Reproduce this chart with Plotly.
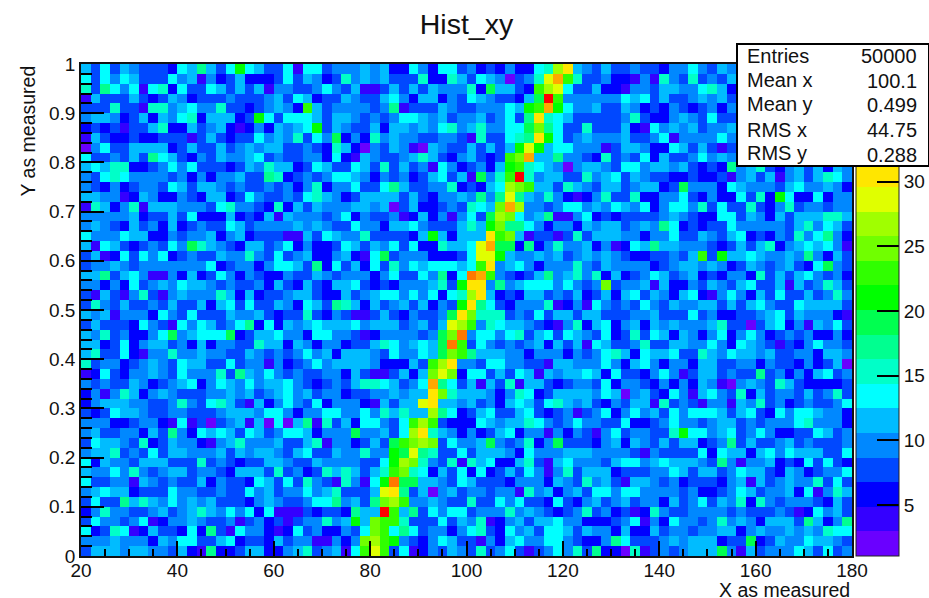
import plotly.graph_objects as go

TITLE = "Hist_xy"
X_LABEL = "X as measured"
Y_LABEL = "Y as measured"
X_TICKS = [20, 40, 60, 80, 100, 120, 140, 160, 180]
Y_TICKS = [0, 0.1, 0.2, 0.3, 0.4, 0.5, 0.6, 0.7, 0.8, 0.9, 1]
Y_TEXT = ["0", "0.1", "0.2", "0.3", "0.4", "0.5", "0.6", "0.7", "0.8", "0.9", "1"]
BAR_TICKS = [5, 10, 15, 20, 25, 30]
STAT_NAMES = ["Entries", "Mean x", "Mean y", "RMS x", "RMS y"]
STAT_VALUES = ["50000", "100.1", "0.499", "44.75", "0.288"]
COLORS = ["#6a00ff", "#3400ff", "#0000ff", "#0048ff", "#0088ff", "#00bcff", "#00ffff",
          "#00ffc8", "#00ff90", "#00ff50", "#00ff00", "#30ff00", "#70ff00", "#a0ff00",
          "#e0ff00", "#ffe600", "#ffa800", "#ff7800", "#ff0000", "#ff0000"]

# Counts, top row first: columns 0-25
LEFT = [
[12,8,14,8,12,10,8,8,8,6,14,12,18,12,8,14,21,14,12,8,8,14,4,14,14,8],
[14,8,14,10,14,12,8,8,8,14,10,12,4,10,6,8,12,6,6,6,8,14,8,12,10,6],
[16,8,18,14,10,14,4,14,16,6,14,8,8,14,12,8,12,8,12,4,10,10,8,8,10,14],
[4,12,8,8,8,12,8,6,8,12,10,6,8,8,8,10,8,8,8,10,12,8,14,12,6,8],
[8,8,8,16,8,8,4,16,16,10,12,14,10,10,16,8,8,6,8,10,12,10,6,23,12,8],
[10,12,12,10,6,8,12,6,12,10,14,16,6,12,12,12,6,8,21,14,8,14,14,14,12,8],
[6,8,6,8,4,8,8,12,16,6,6,12,8,10,12,6,4,6,10,6,12,10,12,14,21,8],
[4,12,8,6,6,8,6,6,8,8,8,4,8,12,8,6,8,8,14,10,12,10,16,8,14,10],
[2,10,14,8,8,12,12,12,12,6,8,12,8,8,12,8,10,12,10,12,12,8,8,10,8,6],
[14,8,8,10,8,12,8,18,14,12,8,6,10,8,12,10,10,12,14,8,10,8,8,10,10,6],
[12,14,12,16,16,6,6,8,10,14,10,14,8,8,8,6,8,12,10,16,12,12,6,8,14,12],
[10,8,14,16,14,10,10,10,10,8,10,6,10,6,10,10,12,8,8,18,16,6,8,10,8,10],
[10,8,6,10,6,8,10,10,8,14,12,8,12,12,10,8,10,8,8,10,8,10,6,10,16,6],
[12,12,10,10,4,6,12,10,6,6,10,8,6,12,12,6,8,14,10,8,8,10,8,14,16,12],
[4,16,12,6,10,16,4,12,12,12,10,10,10,8,14,16,10,10,8,6,16,6,12,8,12,10],
[10,10,10,10,10,12,6,8,8,12,8,14,6,6,6,12,6,8,6,12,4,12,10,10,10,8],
[10,12,10,8,6,12,8,10,6,12,6,8,10,8,8,14,12,8,10,10,10,10,12,10,12,10],
[14,10,10,10,14,12,12,6,6,10,8,10,10,12,6,10,12,6,8,8,8,4,4,12,8,14],
[12,4,14,12,8,6,8,10,8,14,10,19,16,12,10,8,6,12,12,8,10,14,6,10,6,6],
[8,12,4,6,14,8,14,10,14,6,8,10,8,8,12,10,10,16,10,8,14,8,10,12,6,6],
[8,10,10,12,10,8,10,10,10,10,10,10,10,14,6,8,10,10,6,10,14,14,12,8,18,6],
[12,12,18,8,12,14,10,4,4,10,6,12,6,8,14,10,6,10,8,6,6,10,8,8,12,10],
[10,10,6,10,6,14,8,10,12,10,14,12,12,10,8,10,8,8,10,6,12,8,6,12,8,6],
[8,4,12,8,4,10,16,8,4,10,12,10,10,10,16,12,6,12,6,8,8,10,12,12,8,6],
[8,16,10,8,12,8,8,10,8,12,8,8,12,6,12,14,8,14,8,8,12,10,6,14,12,8],
[12,10,12,4,10,10,10,6,14,10,8,14,8,8,8,12,10,10,12,8,6,8,8,16,8,6],
[8,12,8,8,8,6,14,10,8,4,14,10,14,12,8,10,14,18,6,14,6,12,10,12,14,12],
[12,10,16,8,10,6,6,10,14,19,10,12,14,14,14,19,6,8,12,12,14,10,10,6,14,14],
[12,12,6,8,14,6,10,12,12,8,10,6,12,6,10,10,8,8,16,12,12,6,12,10,6,10],
[12,16,8,8,14,6,4,10,10,16,10,10,12,10,10,8,8,12,10,8,10,8,10,14,10,12],
[16,8,10,10,6,8,10,12,10,8,14,12,12,8,8,14,8,10,10,4,10,6,8,10,14,10],
[4,6,14,8,6,10,10,12,10,8,14,10,10,10,16,8,18,12,10,14,10,8,10,8,8,10],
[10,8,10,8,8,12,10,6,8,10,12,14,6,10,14,12,10,14,10,12,12,14,10,8,6,8],
[6,10,4,10,16,12,6,10,12,10,8,8,8,10,10,12,10,12,8,10,12,14,10,12,8,10],
[6,10,12,12,12,10,10,8,8,10,16,10,8,14,16,12,8,4,12,6,10,14,10,8,14,6],
[8,6,8,14,12,12,10,8,8,10,10,8,8,8,10,12,12,12,10,14,14,10,6,10,10,14],
[10,10,10,6,6,8,10,10,6,4,14,4,8,2,8,10,12,4,12,2,14,2,12,18,4,16],
[10,12,8,8,10,10,6,12,8,18,10,6,14,12,14,12,8,14,12,8,10,14,14,12,6,10],
[8,14,12,12,10,8,16,6,8,12,10,10,6,4,10,12,16,10,10,10,12,8,8,12,16,4],
[10,12,12,16,8,10,8,14,8,12,12,10,10,10,12,8,12,10,12,12,10,8,12,14,8,8],
[14,6,12,10,10,8,12,12,12,8,8,8,16,8,10,8,6,8,8,12,12,10,8,8,12,10],
[12,10,10,14,10,16,10,8,10,12,12,8,10,10,8,6,12,12,12,8,16,8,10,6,8,16],
[14,8,8,10,10,4,12,10,8,10,8,8,12,6,10,8,8,6,14,12,8,14,8,16,10,8],
[10,12,14,12,12,6,8,8,8,14,10,10,8,8,10,8,8,14,10,12,8,10,10,14,10,12],
[8,14,8,8,18,12,16,12,10,14,10,12,10,12,8,8,8,6,10,12,10,8,8,10,14,14],
[6,10,16,10,10,8,8,10,12,8,10,12,16,12,10,14,10,14,6,14,4,4,4,8,6,8],
[8,14,10,10,8,10,14,4,6,10,10,12,10,8,8,10,4,8,10,6,8,4,8,10,10,16],
[14,6,8,16,14,4,6,12,8,8,6,14,6,18,8,4,14,10,10,6,4,6,14,8,10,6],
[10,10,10,12,10,10,10,6,12,10,14,14,8,8,12,14,6,8,8,6,12,8,10,10,4,4],
[8,12,12,12,10,12,12,10,10,8,12,6,4,18,6,6,8,12,12,6,6,10,12,16,8,10],
]

# Columns 26-53
MIDDLE = [
[10,10,10,12,10,12,6,6,14,10,6,14,14,8,10,6,8,6,10,6,6,14,16,27,31,12,10,8],
[8,16,10,12,10,12,8,8,8,16,6,6,16,12,8,14,12,10,2,8,10,16,29,33,23,16,8,8],
[10,8,12,4,4,8,12,8,12,8,12,10,10,10,16,6,19,12,12,8,6,23,27,29,14,8,8,12],
[8,12,10,8,8,12,14,10,6,12,12,6,10,8,14,12,10,8,8,6,12,19,37,23,10,10,10,10],
[10,10,10,10,8,10,18,4,8,8,8,12,10,8,8,10,10,10,14,12,21,23,33,21,14,10,10,12],
[12,12,10,8,10,8,10,14,14,12,10,12,8,10,10,12,8,10,14,8,18,31,16,14,12,8,8,8],
[12,10,8,8,12,6,12,12,10,12,10,14,16,10,12,16,10,10,14,14,19,25,18,14,8,8,16,8],
[19,6,10,6,16,10,12,10,10,8,8,10,10,8,4,16,8,8,14,16,18,31,21,14,8,10,12,10],
[16,12,6,2,10,8,12,10,4,2,12,10,8,8,12,8,12,8,12,21,29,21,12,14,14,10,10,10],
[14,6,4,12,10,8,8,10,12,16,12,8,6,10,12,8,6,8,23,25,33,12,12,18,10,10,8,6],
[8,8,14,12,8,16,8,12,8,10,4,14,10,6,8,10,6,12,21,23,16,14,12,10,2,10,12,12],
[14,14,12,10,6,10,8,10,6,8,12,14,8,12,4,19,10,16,23,37,16,10,12,12,8,8,16,10],
[10,10,14,8,8,14,18,12,8,8,10,10,16,6,8,6,12,14,27,25,23,12,12,8,16,12,10,8],
[10,6,8,12,12,12,12,8,12,8,6,10,10,12,10,18,10,18,29,18,12,10,16,10,6,4,6,10],
[10,10,12,12,10,12,2,8,12,6,6,8,10,8,16,14,12,25,33,27,10,10,8,10,14,14,10,12],
[10,14,6,10,8,8,10,4,6,12,6,10,4,10,14,8,19,27,25,14,10,12,18,4,4,10,14,6],
[8,8,14,10,10,6,12,12,14,10,8,8,8,12,16,12,21,25,18,18,14,10,6,10,10,6,12,10],
[12,10,10,16,8,8,8,8,6,12,21,12,6,12,12,12,31,23,25,12,4,8,8,4,8,16,8,12],
[8,14,12,8,12,10,14,8,14,6,6,16,12,12,14,29,33,19,19,6,18,6,10,16,10,10,12,6],
[10,12,6,4,14,19,8,10,10,10,6,6,6,8,14,29,29,21,12,10,10,12,10,12,8,10,12,10],
[14,8,12,6,14,8,16,10,14,12,14,14,14,12,14,23,31,10,12,14,10,6,10,10,10,16,10,8],
[8,10,10,10,6,10,14,8,8,14,10,18,6,14,35,33,23,10,8,6,8,12,18,10,12,16,10,16],
[12,12,14,8,6,8,6,10,10,10,12,16,8,21,31,31,10,18,10,12,14,14,14,10,14,10,8,10],
[6,12,8,10,12,14,14,10,14,10,14,6,14,16,27,31,12,6,8,6,12,12,8,10,8,12,6,8],
[18,16,12,6,12,8,10,12,8,12,6,10,8,21,31,18,14,8,6,10,10,10,16,4,6,10,4,14],
[10,8,4,4,8,12,8,6,10,8,8,10,19,31,25,16,16,16,8,10,8,14,8,12,12,8,12,12],
[12,12,14,10,12,12,12,8,10,12,8,12,29,27,23,10,16,14,12,12,10,8,6,4,10,16,6,12],
[10,10,8,4,6,10,10,10,10,8,10,19,25,35,10,14,14,10,14,16,8,12,14,8,14,12,10,8],
[10,6,8,8,12,16,14,10,12,14,12,19,35,23,8,14,10,8,10,8,10,12,6,12,8,12,4,14],
[6,12,12,12,10,8,14,10,10,14,12,19,25,23,18,12,12,12,10,10,6,10,10,10,6,10,8,10],
[12,12,12,12,10,6,6,6,12,8,23,27,31,10,10,8,14,14,10,10,8,8,4,12,12,10,10,10],
[10,6,12,8,4,4,8,12,6,12,25,29,25,6,14,14,8,12,8,14,12,4,12,10,12,12,14,12],
[10,8,12,16,16,14,12,8,10,14,33,18,14,8,12,4,12,8,16,4,12,12,8,6,8,10,10,8],
[10,6,8,8,10,10,12,10,12,12,31,25,16,12,12,12,10,6,10,16,14,6,8,12,12,12,12,10],
[10,10,10,6,4,12,8,12,12,29,31,12,12,10,12,8,10,6,12,14,12,8,14,16,12,10,12,8],
[14,10,10,14,10,16,12,16,12,12,27,18,14,6,8,12,14,8,8,12,14,8,6,8,10,4,8,10],
[8,12,6,14,14,10,8,14,23,27,23,8,6,6,6,14,12,10,12,12,16,14,10,8,10,14,10,10],
[10,10,19,10,10,12,8,14,27,31,16,12,10,6,10,6,8,12,14,6,10,10,4,10,6,10,8,4],
[10,10,6,8,12,8,19,23,25,27,25,8,14,10,10,12,19,10,8,10,16,6,10,19,8,8,8,6],
[12,10,10,16,10,10,21,19,29,18,16,8,8,14,8,12,12,12,10,6,14,10,10,10,12,12,12,10],
[10,10,10,8,8,14,21,27,25,16,10,8,16,4,16,12,14,6,6,12,16,8,4,12,14,10,10,10],
[12,16,12,8,12,16,23,25,16,14,6,12,8,14,6,14,6,8,12,8,14,10,4,10,16,8,12,12],
[4,16,10,4,14,21,35,19,19,12,12,10,8,14,12,8,8,8,6,10,10,10,6,12,10,8,16,10],
[16,8,8,8,12,29,31,18,8,12,2,10,12,8,10,10,8,10,10,4,16,10,12,6,10,12,8,14],
[18,10,12,8,18,25,27,23,10,10,12,10,8,8,16,8,8,14,10,14,8,8,6,14,8,6,10,12],
[8,6,18,12,12,37,23,12,18,8,14,10,14,14,8,10,10,10,16,10,12,10,8,6,8,10,16,8],
[10,12,21,12,25,23,23,16,8,8,8,14,8,12,10,16,4,6,10,12,8,12,12,14,10,10,6,6],
[6,10,8,14,25,23,14,18,14,8,10,10,6,10,14,16,8,6,14,10,12,8,14,14,12,8,12,10],
[10,6,10,25,27,23,21,10,8,6,10,14,12,8,8,4,10,6,12,14,10,10,14,14,10,8,6,6],
[12,4,14,23,29,23,8,14,4,6,10,8,12,10,8,16,8,10,14,8,4,8,10,14,10,16,8,18],
]

# Columns 54-79; rows 0-9 stop at column 67 because the stats box hides the rest
RIGHT = [
[12,8,8,10,8,8,6,10,10,14,10,8,12,10],
[10,6,6,4,10,4,16,10,8,16,8,10,8,12],
[6,6,4,10,10,8,12,12,10,10,14,16,12,6],
[10,10,14,12,14,8,12,8,8,10,12,10,12,8],
[8,8,12,10,6,8,6,10,8,6,8,10,6,10],
[8,8,10,16,8,6,6,10,12,10,8,14,8,8],
[8,8,12,6,4,14,10,12,10,12,8,10,10,12],
[10,10,12,8,8,10,14,4,10,10,10,10,14,10],
[4,8,12,12,10,6,6,14,12,8,12,8,4,8],
[16,8,10,8,14,6,12,8,8,10,14,10,12,10],
[10,8,14,14,10,12,12,10,12,8,6,8,6,18,10,12,16,8,6,10,12,8,12,6,12,10],
[12,14,8,12,10,8,8,6,6,8,6,6,8,4,10,12,8,12,4,10,12,8,12,16,14,10],
[12,12,8,10,12,12,6,8,19,10,10,10,6,14,12,10,10,10,8,12,14,10,10,12,10,6],
[16,8,8,16,6,6,10,10,14,8,6,10,6,6,14,8,16,6,21,14,6,6,14,6,10,10],
[10,14,12,10,14,6,10,14,14,10,16,8,14,8,8,16,8,6,10,16,8,10,10,8,10,10],
[8,6,8,8,8,8,10,12,10,8,6,6,14,14,8,12,10,6,12,8,12,12,12,16,16,12],
[12,12,8,10,12,10,18,14,6,8,6,8,8,14,10,10,10,10,10,8,12,16,10,14,12,8],
[12,12,10,10,6,10,10,14,8,8,12,10,8,12,14,6,8,6,10,8,16,10,14,18,10,6],
[10,4,6,14,12,18,12,12,10,10,10,8,6,8,12,8,12,16,6,10,12,14,12,14,10,4],
[12,10,8,6,6,8,8,10,8,12,23,8,21,12,12,14,12,10,10,12,10,18,10,6,12,8],
[12,10,10,10,10,6,8,10,12,12,10,12,10,6,8,12,10,8,10,12,8,6,14,19,10,8],
[6,12,6,8,10,14,12,8,10,12,6,8,6,10,10,6,16,8,12,8,12,14,10,8,10,6],
[25,8,10,10,12,4,12,6,6,10,8,12,10,8,12,14,8,8,12,4,12,8,10,16,12,8],
[12,6,12,14,8,12,10,6,12,14,6,4,10,14,10,6,12,8,14,8,8,12,8,10,16,10],
[10,8,10,8,14,10,8,12,10,10,12,12,8,12,8,12,14,10,8,8,14,12,12,12,12,8],
[8,8,8,10,10,12,8,8,8,14,8,10,6,6,8,8,10,12,14,8,12,10,10,10,6,4],
[14,6,10,12,6,12,10,12,10,10,10,12,16,8,8,2,8,12,14,6,10,4,12,10,14,8],
[14,6,8,16,8,14,12,6,12,10,6,10,14,6,10,14,10,6,8,10,8,10,6,6,10,6],
[12,8,8,10,16,8,8,12,12,10,10,14,10,6,14,12,10,8,4,8,6,10,14,10,10,8],
[14,16,12,6,14,12,12,14,8,8,16,12,10,14,12,12,10,12,8,8,10,10,6,12,12,10],
[14,10,6,12,14,10,6,10,10,6,12,12,8,8,10,10,6,10,8,8,6,10,6,8,12,2],
[6,14,8,8,6,10,14,10,4,8,12,12,8,10,8,8,18,8,10,6,10,6,12,14,8,10],
[14,6,10,10,8,6,10,6,10,6,12,10,4,2,10,12,10,8,16,12,8,6,6,6,6,8],
[14,12,2,10,12,8,6,14,10,4,12,14,10,8,16,6,12,8,10,10,8,12,8,10,16,8],
[6,10,8,12,12,4,16,8,10,8,4,10,10,4,12,10,16,8,10,6,8,10,8,8,10,14],
[14,6,10,14,10,12,8,14,10,14,14,14,12,8,12,14,8,6,14,10,14,14,12,10,10,6],
[8,8,14,6,6,8,10,14,10,10,8,10,12,12,8,10,8,10,10,10,14,16,10,10,10,6],
[10,14,8,10,10,8,8,16,21,14,14,10,12,14,8,10,14,10,6,6,8,8,14,12,8,10],
[10,12,6,12,10,8,12,8,12,12,6,8,10,18,8,12,8,8,10,12,8,10,8,8,8,10],
[10,10,10,8,4,10,8,8,8,8,14,6,14,12,12,6,12,14,10,14,12,12,12,8,8,14],
[8,12,14,14,10,12,14,12,12,12,10,8,18,10,4,10,10,12,6,8,6,14,8,14,8,6],
[12,6,8,8,8,10,10,14,12,8,12,12,8,10,14,12,12,8,6,12,10,6,8,10,10,14],
[12,8,4,12,12,10,8,10,6,8,8,8,6,10,12,4,12,8,10,12,10,10,16,8,14,8],
[14,10,14,14,10,10,10,10,8,10,6,6,8,10,14,12,8,10,10,12,6,14,4,10,16,12],
[8,10,12,8,10,10,6,12,8,10,14,8,12,10,16,6,16,10,8,10,10,10,8,6,12,8],
[10,6,8,4,6,16,10,8,8,10,10,10,10,8,10,8,8,8,10,8,4,6,14,10,12,8],
[6,8,10,14,4,10,6,14,10,10,8,10,16,10,12,10,6,12,12,12,8,18,12,6,10,18],
[10,6,12,6,6,12,8,10,10,8,10,10,12,12,6,10,12,10,10,12,10,12,10,16,14,14],
[10,18,14,8,8,8,10,12,10,12,12,12,6,8,8,19,6,8,12,10,10,14,12,12,10,8],
[6,6,2,16,4,8,10,8,10,12,12,12,19,10,4,12,8,10,10,10,14,12,8,14,8,10],
]

rows = []
for i in range(50):
    full = LEFT[i] + MIDDLE[i] + RIGHT[i]
    rows.append(full + [None] * (80 - len(full)))

PL, PR, PT, PB = 81, 852, 64, 556
px = lambda v: (v - PL) / (PR - PL)
py = lambda v: 1 - (v - PT) / (PB - PT)
FONT = "Liberation Sans, Arial, sans-serif"

scale = []
for i, c in enumerate(COLORS):
    scale += [[i / len(COLORS), c], [(i + 1) / len(COLORS), c]]

fig = go.Figure(go.Heatmap(
    z=rows[::-1], x0=21, dx=2, y0=0.01, dy=0.02,
    colorscale=scale, zmin=1.05, zmax=39.1, hoverongaps=False,
    colorbar=dict(
        x=px(856), xanchor="left", xpad=0, y=0.5, yanchor="middle", ypad=0, len=1,
        thickness=43, thicknessmode="pixels", outlinecolor="#222", outlinewidth=1,
        tickvals=BAR_TICKS, ticks="inside", ticklen=22, tickwidth=1.5, tickcolor="black",
        tickfont=dict(family=FONT, size=19, color="#111"),
    ),
))

anns = [dict(
    x=px(736), y=py(43), xref="paper", yref="paper", xanchor="left", yanchor="top",
    text=" ", showarrow=False, width=190, height=120, bgcolor="white",
    bordercolor="black", borderwidth=2, borderpad=0,
)]
STAT_Y = [56, 80, 104, 130, 153]
VALUE_Y = [56, 81, 105, 130, 155]
for name, value, y1, y2 in zip(STAT_NAMES, STAT_VALUES, STAT_Y, VALUE_Y):
    anns.append(dict(x=px(745), y=py(y1), xref="paper", yref="paper", xanchor="left",
                     yanchor="middle", text=name, showarrow=False,
                     font=dict(family=FONT, size=20, color="#111")))
    anns.append(dict(x=px(919), y=py(y2), xref="paper", yref="paper", xanchor="right",
                     yanchor="middle", text=value, showarrow=False,
                     font=dict(family=FONT, size=20, color="#111")))
anns.append(dict(x=px(852), y=py(590), xref="paper", yref="paper", xanchor="right",
                 yanchor="middle", text=X_LABEL, showarrow=False,
                 font=dict(family=FONT, size=19.5, color="#111")))
anns.append(dict(x=px(27), y=py(64), xref="paper", yref="paper", xanchor="center",
                 yanchor="top", text=Y_LABEL, textangle=-90, showarrow=False,
                 font=dict(family=FONT, size=19.5, color="#111")))

axis_common = dict(showgrid=False, zeroline=False, showline=True, mirror=True,
                   linecolor="#111", linewidth=1.5, ticks="inside", tickcolor="black",
                   tickwidth=1.5, tickfont=dict(family=FONT, size=19, color="#111"))

fig.update_layout(
    width=929, height=598,
    margin=dict(l=PL, r=929 - PR, t=PT, b=598 - PB, autoexpand=False),
    paper_bgcolor="white", plot_bgcolor="white",
    title=dict(text=TITLE, x=0.5, xref="paper", xanchor="center", y=1 - 24 / 598,
               yref="container", yanchor="middle",
               font=dict(family=FONT, size=28.5, color="#111")),
    xaxis=dict(range=[20, 180], tickvals=X_TICKS, ticklen=15, ticklabelstandoff=-4,
               minor=dict(dtick=5, ticks="inside", ticklen=7, tickcolor="black", tickwidth=1.5),
               **axis_common),
    yaxis=dict(range=[0, 1], tickvals=Y_TICKS, ticktext=Y_TEXT, ticklen=23,
               minor=dict(dtick=0.02, ticks="inside", ticklen=11, tickcolor="black", tickwidth=1.5),
               **axis_common),
    annotations=anns,
)

fig.write_html("out.html", config={"displayModeBar": False},
               post_script="document.body.style.margin='0';")
